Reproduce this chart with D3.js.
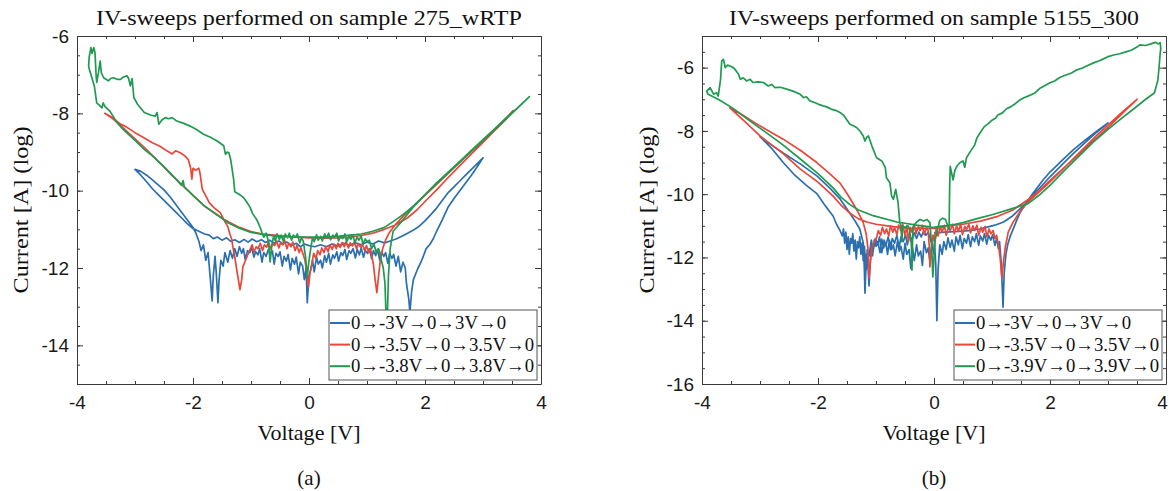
<!DOCTYPE html>
<html>
<head>
<meta charset="utf-8">
<title>IV sweeps</title>
<script src="https://d3js.org/d3.v7.min.js"></script>
<style>
  body { margin: 0; background: #fff; }
  .serif { font-family: "Liberation Serif", "DejaVu Serif", serif; fill: #111; }
</style>
</head>
<body>
<svg id="chart" width="1169" height="491"></svg>
<script>
// ---- data ----
const voltTicks = [-4, -2, 0, 2, 4];
const logTicksA = [-6, -8, -10, -12, -14];
const logTicksB = [-6, -8, -10, -12, -14, -16];
const titles = ["IV-sweeps performed on sample 275_wRTP", "IV-sweeps performed on sample 5155_300"];
const captions = ["(a)", "(b)"];
const legendA = ["0\u2192-3V\u21920\u21923V\u21920", "0\u2192-3.5V\u21920\u21923.5V\u21920", "0\u2192-3.8V\u21920\u21923.8V\u21920"];
const legendB = ["0\u2192-3V\u21920\u21923V\u21920", "0\u2192-3.5V\u21920\u21923.5V\u21920", "0\u2192-3.9V\u21920\u21923.9V\u21920"];
const colors = ["#2b6fae", "#e8473b", "#1f9a50"];

// [voltage, log10 current] along each sweep loop
const blueA = [
  [0,-11.42],[-0.08,-11.38],[-0.15,-11.45],[-0.22,-11.36],[-0.3,-11.41],[-0.38,-11.33],[-0.45,-11.38],[-0.52,-11.3],[-0.6,-11.36],[-0.68,-11.28],
  [-0.75,-11.34],[-0.82,-11.27],[-0.9,-11.32],[-0.98,-11.25],[-1.05,-11.33],[-1.12,-11.26],[-1.2,-11.34],[-1.28,-11.27],[-1.35,-11.31],[-1.42,-11.22],
  [-1.5,-11.28],[-1.58,-11.2],[-1.65,-11.24],[-1.72,-11.15],[-1.8,-11.12],[-1.9,-11.05],[-2.0,-10.98],[-2.1,-10.85],[-2.2,-10.7],[-2.3,-10.55],
  [-2.4,-10.4],[-2.5,-10.25],[-2.6,-10.1],[-2.7,-9.95],[-2.8,-9.77],[-2.9,-9.6],[-3.0,-9.45],
  [-2.9,-9.5],[-2.8,-9.6],[-2.7,-9.72],[-2.6,-9.85],[-2.5,-9.98],[-2.4,-10.15],[-2.3,-10.35],[-2.2,-10.55],[-2.1,-10.75],[-2.0,-10.95],
  [-1.95,-11.1],[-1.9,-11.3],[-1.86,-11.55],[-1.82,-11.4],[-1.78,-11.8],[-1.74,-11.6],[-1.7,-12.3],[-1.67,-12.85],[-1.65,-12.2],[-1.62,-11.7],
  [-1.6,-12.1],[-1.57,-12.9],[-1.55,-12.3],[-1.52,-11.8],[-1.48,-11.95],[-1.45,-11.6],[-1.4,-11.85],[-1.36,-11.55],[-1.32,-11.75],[-1.28,-11.5],
  [-1.24,-11.7],[-1.2,-11.45],[-1.16,-11.62],[-1.13,-11.5],[-1.1,-11.78],[-1.06,-11.55],[-1.02,-11.6],[-0.99,-11.46],[-0.95,-11.72],[-0.92,-11.58],
  [-0.88,-11.66],[-0.85,-11.5],[-0.81,-11.85],[-0.78,-11.6],[-0.74,-11.7],[-0.7,-11.52],[-0.67,-11.64],[-0.63,-11.56],[-0.6,-11.9],[-0.57,-11.62],
  [-0.53,-11.7],[-0.5,-11.58],[-0.46,-11.95],[-0.43,-11.7],[-0.39,-11.82],[-0.36,-11.65],[-0.32,-12.05],[-0.29,-11.75],[-0.25,-11.9],[-0.22,-11.72],
  [-0.18,-12.15],[-0.15,-11.85],[-0.11,-11.95],[-0.08,-12.3],[-0.05,-12.0],[-0.03,-12.9],[0,-12.2],
  [0.03,-12.05],[0.06,-11.8],[0.09,-12.1],[0.13,-11.72],[0.16,-11.9],[0.2,-11.8],[0.23,-12.0],[0.27,-11.68],[0.3,-11.85],[0.34,-11.62],
  [0.37,-11.9],[0.41,-11.66],[0.44,-11.75],[0.48,-11.58],[0.51,-11.82],[0.55,-11.6],[0.58,-11.68],[0.62,-11.52],[0.65,-11.78],[0.69,-11.55],
  [0.72,-11.62],[0.76,-11.5],[0.8,-11.74],[0.83,-11.52],[0.87,-11.66],[0.9,-11.48],[0.94,-11.72],[0.97,-11.55],[1.01,-11.62],[1.04,-11.5],
  [1.08,-11.76],[1.11,-11.55],[1.15,-11.68],[1.18,-11.52],[1.22,-11.8],[1.25,-11.58],[1.29,-11.7],[1.32,-11.6],[1.36,-11.88],[1.39,-11.62],
  [1.43,-11.75],[1.46,-11.65],[1.5,-11.95],[1.54,-11.7],[1.58,-12.1],[1.62,-11.85],[1.66,-12.0],[1.68,-12.4],[1.72,-12.8],[1.74,-13.15],
  [1.77,-12.6],[1.8,-12.3],[1.84,-12.15],[1.88,-12.0],[1.93,-11.85],[1.97,-11.7],[2.02,-11.5],[2.08,-11.4],[2.14,-11.25],[2.2,-11.05],
  [2.3,-10.75],[2.4,-10.42],[2.5,-10.2],[2.6,-10.0],[2.7,-9.8],[2.8,-9.6],[2.9,-9.38],[3.0,-9.15],
  [2.9,-9.3],[2.8,-9.45],[2.7,-9.6],[2.6,-9.75],[2.5,-9.9],[2.4,-10.05],[2.3,-10.25],[2.2,-10.45],[2.1,-10.62],[2.0,-10.78],
  [1.9,-10.92],[1.8,-11.02],[1.7,-11.1],[1.6,-11.18],[1.5,-11.25],[1.4,-11.3],[1.3,-11.35],[1.2,-11.3],[1.1,-11.38],[1.0,-11.33],
  [0.9,-11.4],[0.8,-11.35],[0.7,-11.42],[0.6,-11.36],[0.5,-11.43],[0.4,-11.38],[0.3,-11.45],[0.2,-11.4],[0.1,-11.45],[0,-11.42]
];
const redA = [
  [0,-11.22],[-0.2,-11.2],[-0.4,-11.18],[-0.6,-11.15],[-0.8,-11.12],[-1.0,-11.06],[-1.2,-10.95],[-1.4,-10.8],[-1.6,-10.62],[-1.8,-10.4],
  [-2.0,-10.12],[-2.2,-9.84],[-2.4,-9.55],[-2.6,-9.24],[-2.8,-8.94],[-3.0,-8.66],[-3.2,-8.38],[-3.4,-8.12],[-3.52,-8.0],
  [-3.4,-8.1],[-3.26,-8.27],[-3.15,-8.35],[-3.0,-8.5],[-2.84,-8.64],[-2.7,-8.76],[-2.57,-8.85],[-2.45,-8.97],[-2.36,-9.05],[-2.3,-8.97],
  [-2.22,-9.02],[-2.14,-9.1],[-2.08,-9.2],[-2.04,-9.42],[-2.02,-9.7],[-2.0,-9.42],[-1.96,-9.47],[-1.9,-9.42],[-1.88,-9.54],[-1.84,-9.96],
  [-1.72,-10.31],[-1.64,-10.44],[-1.53,-10.57],[-1.45,-10.8],[-1.4,-10.93],[-1.36,-11.14],[-1.33,-11.27],[-1.31,-11.48],[-1.28,-11.71],[-1.24,-12.1],
  [-1.19,-12.56],[-1.16,-12.3],[-1.14,-11.97],[-1.07,-11.71],[-1.02,-11.53],[-0.98,-11.4],[-0.95,-11.6],[-0.91,-11.45],[-0.88,-11.5],[-0.84,-11.36],
  [-0.8,-11.55],[-0.77,-11.4],[-0.73,-11.46],[-0.7,-11.32],[-0.66,-11.5],[-0.63,-11.38],[-0.59,-11.42],[-0.56,-11.3],[-0.52,-11.48],[-0.49,-11.35],
  [-0.45,-11.4],[-0.42,-11.28],[-0.38,-11.5],[-0.35,-11.36],[-0.31,-11.45],[-0.28,-11.33],[-0.24,-11.55],[-0.21,-11.42],[-0.17,-11.6],[-0.14,-11.48],
  [-0.1,-11.65],[-0.07,-11.8],[-0.04,-12.1],[-0.01,-12.49],[0.02,-12.1],
  [0.05,-11.9],[0.08,-11.62],[0.12,-11.75],[0.15,-11.55],[0.19,-11.66],[0.22,-11.48],[0.26,-11.6],[0.29,-11.44],[0.33,-11.58],[0.36,-11.4],
  [0.4,-11.52],[0.43,-11.38],[0.47,-11.5],[0.5,-11.36],[0.54,-11.47],[0.57,-11.34],[0.61,-11.45],[0.64,-11.32],[0.68,-11.48],[0.71,-11.35],
  [0.75,-11.43],[0.78,-11.33],[0.82,-11.5],[0.85,-11.37],[0.89,-11.46],[0.92,-11.38],[0.96,-11.55],[0.99,-11.42],[1.03,-11.6],[1.06,-11.5],
  [1.09,-11.75],[1.11,-11.9],[1.14,-12.3],[1.17,-12.64],[1.2,-12.2],[1.23,-11.8],[1.27,-11.5],[1.32,-11.28],[1.38,-11.1],
  [1.45,-10.95],[1.55,-10.78],[1.65,-10.62],[1.8,-10.4],[2.0,-10.12],[2.2,-9.84],[2.4,-9.55],[2.6,-9.26],[2.8,-8.98],[3.0,-8.7],
  [3.2,-8.42],[3.4,-8.12],[3.52,-7.93],
  [3.4,-8.15],[3.2,-8.45],[3.0,-8.75],[2.8,-9.05],[2.6,-9.35],[2.4,-9.66],[2.2,-9.98],[2.0,-10.28],[1.86,-10.5],[1.7,-10.7],
  [1.5,-10.88],[1.3,-11.0],[1.1,-11.1],[0.9,-11.16],[0.7,-11.2],[0.5,-11.22],[0.3,-11.23],[0,-11.22]
];
const greenA = [
  [0,-11.2],[-0.2,-11.2],[-0.4,-11.19],[-0.6,-11.17],[-0.8,-11.13],[-1.0,-11.08],[-1.2,-10.97],[-1.4,-10.83],[-1.53,-10.68],[-1.6,-10.6],
  [-1.81,-10.39],[-2.0,-10.12],[-2.1,-9.97],[-2.15,-9.9],[-2.17,-9.74],[-2.2,-9.86],[-2.28,-9.72],[-2.5,-9.38],[-2.7,-9.1],[-2.84,-8.93],
  [-3.0,-8.7],[-3.2,-8.42],[-3.31,-8.24],[-3.43,-7.95],[-3.52,-7.82],[-3.55,-7.73],[-3.57,-7.86],[-3.62,-7.78],[-3.66,-7.73],[-3.7,-7.3],
  [-3.74,-7.1],[-3.78,-6.9],[-3.8,-6.78],
  [-3.79,-6.55],[-3.76,-6.3],[-3.74,-6.45],[-3.71,-6.3],[-3.69,-6.43],[-3.67,-7.03],[-3.66,-7.2],[-3.63,-6.95],[-3.6,-6.65],[-3.58,-6.95],
  [-3.54,-7.08],[-3.5,-7.12],[-3.46,-7.16],[-3.42,-7.1],[-3.37,-7.08],[-3.31,-7.12],[-3.25,-7.12],[-3.2,-7.06],[-3.14,-7.03],[-3.11,-7.1],
  [-3.08,-7.29],[-3.05,-7.1],[-3.02,-7.59],[-2.95,-7.78],[-2.84,-7.98],[-2.72,-8.05],[-2.65,-8.07],[-2.62,-7.98],[-2.59,-8.28],[-2.54,-8.18],
  [-2.48,-8.11],[-2.42,-8.14],[-2.36,-8.11],[-2.28,-8.2],[-2.16,-8.26],[-2.05,-8.33],[-1.94,-8.42],[-1.82,-8.54],[-1.7,-8.62],[-1.59,-8.71],
  [-1.47,-8.84],[-1.44,-9.06],[-1.41,-9.0],[-1.38,-9.02],[-1.35,-9.2],[-1.33,-9.4],[-1.3,-9.7],[-1.28,-10.03],[-1.22,-10.08],[-1.14,-10.16],
  [-1.08,-10.28],[-1.02,-10.42],[-0.97,-10.6],[-0.9,-10.75],[-0.84,-10.96],[-0.81,-11.09],[-0.78,-11.2],[-0.74,-11.1],[-0.7,-11.3],[-0.67,-11.84],
  [-0.64,-11.4],[-0.61,-11.18],[-0.58,-11.3],[-0.55,-11.12],[-0.51,-11.26],[-0.48,-11.15],[-0.44,-11.32],[-0.41,-11.12],[-0.37,-11.22],[-0.34,-11.1],
  [-0.3,-11.28],[-0.27,-11.15],[-0.23,-11.2],[-0.2,-11.12],[-0.16,-11.35],[-0.13,-11.22],[-0.1,-11.3],[-0.06,-11.7],[-0.03,-12.23],[0,-11.8],
  [0.03,-11.5],[0.06,-11.22],[0.09,-11.32],[0.13,-11.14],[0.16,-11.28],[0.2,-11.18],[0.23,-11.3],[0.27,-11.12],[0.3,-11.22],[0.34,-11.1],
  [0.37,-11.27],[0.41,-11.15],[0.44,-11.2],[0.48,-11.1],[0.51,-11.3],[0.55,-11.16],[0.58,-11.24],[0.62,-11.12],[0.65,-11.32],[0.69,-11.18],
  [0.72,-11.26],[0.76,-11.15],[0.79,-11.35],[0.83,-11.2],[0.86,-11.28],[0.9,-11.18],[0.93,-11.38],[0.97,-11.25],[1.0,-11.32],[1.04,-11.28],
  [1.08,-11.5],[1.12,-11.38],[1.16,-11.6],[1.2,-11.5],[1.24,-11.75],[1.28,-12.0],[1.31,-12.4],[1.33,-13.3],[1.35,-13.3],
  [1.37,-12.2],[1.4,-11.5],[1.45,-11.05],[1.55,-10.88],[1.62,-10.75],[1.8,-10.42],[2.03,-10.06],[2.2,-9.82],[2.4,-9.54],[2.6,-9.26],
  [2.8,-8.98],[3.0,-8.7],[3.2,-8.42],[3.4,-8.14],[3.6,-7.86],[3.8,-7.57],
  [3.6,-7.85],[3.4,-8.12],[3.2,-8.4],[3.0,-8.68],[2.8,-8.96],[2.6,-9.24],[2.4,-9.52],[2.2,-9.8],[2.0,-10.1],[1.8,-10.4],
  [1.62,-10.62],[1.45,-10.8],[1.3,-10.95],[1.1,-11.05],[0.9,-11.12],[0.7,-11.15],[0.5,-11.18],[0.3,-11.2],[0.1,-11.2],[0,-11.2]
];
const blueB = [
  [0,-11.9],[-0.03,-11.55],[-0.07,-12.15],[-0.1,-11.7],[-0.13,-11.85],[-0.17,-11.5],[-0.2,-12.25],[-0.23,-11.8],[-0.27,-11.95],[-0.3,-11.6],
  [-0.34,-12.1],[-0.37,-11.7],[-0.4,-12.35],[-0.43,-11.75],[-0.47,-11.9],[-0.5,-11.55],[-0.53,-12.05],[-0.57,-11.65],[-0.6,-11.8],[-0.63,-11.5],
  [-0.67,-11.95],[-0.7,-11.6],[-0.73,-11.75],[-0.77,-11.45],[-0.8,-11.9],[-0.83,-11.55],[-0.87,-11.7],[-0.9,-11.42],[-0.93,-11.85],[-0.97,-11.5],
  [-1.0,-11.65],[-1.03,-11.45],[-1.06,-11.95],[-1.08,-11.6],[-1.1,-12.2],[-1.12,-12.9],
  [-1.14,-12.2],[-1.16,-11.9],[-1.18,-12.6],[-1.19,-13.13],[-1.2,-12.4],[-1.22,-11.54],[-1.28,-11.1],[-1.35,-10.88],[-1.45,-10.6],[-1.62,-10.15],
  [-1.8,-9.8],[-2.02,-9.42],[-2.3,-9.05],[-2.6,-8.7],[-2.8,-8.45],[-3.0,-8.18],
  [-2.8,-8.55],[-2.6,-9.0],[-2.4,-9.4],[-2.2,-9.72],[-2.02,-9.98],[-1.9,-10.3],[-1.8,-10.55],[-1.74,-10.69],[-1.68,-10.95],[-1.62,-11.15],
  [-1.58,-11.32],[-1.56,-11.1],[-1.54,-11.55],[-1.52,-11.2],[-1.5,-11.75],[-1.48,-11.35],[-1.46,-11.9],[-1.44,-11.4],[-1.42,-11.55],[-1.4,-11.25],
  [-1.38,-11.8],[-1.36,-11.45],[-1.34,-12.05],[-1.32,-11.5],[-1.3,-11.7],[-1.28,-11.35],[-1.26,-11.9],[-1.24,-11.55],[-1.22,-12.1],[-1.2,-11.65],
  [-1.17,-12.4],[-1.15,-11.75],[-1.12,-11.95],[-1.08,-11.45],[-1.05,-11.8],[-1.01,-11.4],[-0.97,-11.6],[-0.94,-11.35],[-0.9,-11.85],[-0.86,-11.45],
  [-0.83,-11.62],[-0.79,-11.35],[-0.75,-11.75],[-0.72,-11.4],[-0.68,-11.55],[-0.64,-11.3],[-0.6,-11.68],[-0.57,-11.35],[-0.53,-11.5],[-0.49,-11.28],
  [-0.46,-11.6],[-0.42,-11.3],[-0.38,-11.45],[-0.34,-11.22],[-0.3,-11.4],[-0.26,-11.2],[-0.22,-11.35],[-0.18,-11.18],[-0.14,-11.3],[-0.1,-11.2],
  [-0.05,-11.5],[0,-11.3],[0.03,-12.2],[0.05,-14.0],[0.07,-12.4],[0.1,-11.6],
  [0.14,-11.9],[0.17,-11.5],[0.21,-11.75],[0.24,-11.38],[0.28,-11.68],[0.31,-11.45],[0.35,-11.8],[0.38,-11.35],[0.42,-11.6],[0.45,-11.3],
  [0.49,-11.72],[0.52,-11.4],[0.56,-11.55],[0.59,-11.28],[0.63,-11.66],[0.66,-11.35],[0.7,-11.5],[0.73,-11.25],[0.77,-11.62],[0.8,-11.32],
  [0.84,-11.48],[0.87,-11.25],[0.91,-11.58],[0.94,-11.3],[0.98,-11.45],[1.01,-11.28],[1.05,-11.62],[1.08,-11.4],[1.11,-11.72],[1.13,-11.5],
  [1.16,-12.2],[1.19,-13.57],[1.21,-12.5],[1.24,-11.9],
  [1.27,-11.6],[1.31,-11.35],[1.36,-11.13],[1.42,-10.85],[1.48,-10.6],[1.6,-10.25],[1.71,-9.96],[1.88,-9.55],[2.0,-9.3],[2.2,-8.95],
  [2.4,-8.6],[2.6,-8.3],[2.8,-8.02],[3.0,-7.75],
  [2.8,-8.05],[2.6,-8.38],[2.4,-8.72],[2.2,-9.08],[2.0,-9.45],[1.85,-9.75],[1.7,-10.05],[1.55,-10.35],[1.45,-10.52],[1.36,-10.68],
  [1.2,-10.88],[1.05,-10.98],[0.9,-11.05],[0.79,-11.1],[0.6,-11.15],[0.4,-11.18],[0.2,-11.2],[0,-11.22]
];
const redB = [
  [0,-11.08],[-0.2,-11.08],[-0.4,-11.07],[-0.59,-11.05],[-0.8,-11.0],[-1.0,-10.95],[-1.16,-10.88],[-1.3,-10.78],[-1.45,-10.6],[-1.6,-10.35],
  [-1.74,-10.06],[-2.0,-9.62],[-2.31,-9.2],[-2.6,-8.72],[-3.0,-8.16],[-3.25,-7.72],[-3.52,-7.27],
  [-3.3,-7.5],[-3.1,-7.73],[-2.9,-7.95],[-2.6,-8.26],[-2.3,-8.62],[-2.02,-9.0],[-1.8,-9.35],[-1.62,-9.65],[-1.5,-9.98],
  [-1.4,-10.28],[-1.3,-10.6],[-1.22,-10.9],[-1.17,-11.25],[-1.14,-11.7],[-1.12,-12.65],[-1.1,-12.2],[-1.07,-11.67],[-1.03,-11.5],
  [-0.99,-11.38],[-0.96,-11.15],[-0.92,-11.3],[-0.89,-11.05],[-0.85,-11.25],[-0.82,-11.1],[-0.78,-11.32],[-0.75,-11.0],[-0.71,-11.2],[-0.68,-11.05],
  [-0.64,-11.28],[-0.61,-10.98],[-0.57,-11.15],[-0.54,-10.95],[-0.5,-11.3],[-0.47,-11.0],[-0.44,-11.5],[-0.41,-11.05],[-0.38,-11.2],[-0.34,-10.95],
  [-0.31,-11.25],[-0.27,-11.02],[-0.24,-11.15],[-0.2,-10.98],[-0.17,-11.28],[-0.13,-11.05],[-0.1,-11.15],[-0.08,-11.7],[-0.07,-12.3],[-0.05,-11.8],
  [-0.02,-11.3],[0,-11.45],
  [0.04,-11.1],[0.07,-11.32],[0.11,-11.02],[0.14,-11.2],[0.18,-10.98],[0.21,-11.3],[0.25,-11.05],[0.28,-11.15],[0.32,-10.95],[0.35,-11.25],
  [0.39,-11.0],[0.42,-11.18],[0.46,-10.95],[0.49,-11.28],[0.53,-11.02],[0.56,-11.12],[0.6,-10.95],[0.63,-11.22],[0.67,-11.0],[0.7,-11.15],
  [0.74,-10.98],[0.77,-11.3],[0.81,-11.05],[0.84,-11.2],[0.88,-11.02],[0.91,-11.35],[0.95,-11.1],[0.98,-11.25],[1.02,-11.15],[1.05,-11.4],
  [1.08,-11.3],[1.11,-11.6],[1.14,-12.0],[1.17,-12.65],
  [1.2,-12.1],[1.23,-11.67],[1.28,-11.2],[1.36,-10.9],[1.5,-10.5],[1.66,-10.18],[1.8,-9.95],[1.95,-9.7],[2.2,-9.25],[2.5,-8.7],
  [2.8,-8.15],[3.0,-7.82],[3.25,-7.4],[3.5,-7.0],
  [3.3,-7.35],[3.0,-7.9],[2.7,-8.4],[2.4,-8.9],[2.1,-9.4],[1.95,-9.65],[1.8,-9.92],[1.6,-10.2],[1.36,-10.5],[1.1,-10.7],
  [0.8,-10.85],[0.5,-10.95],[0.33,-10.98],[0.1,-11.05],[0,-11.08]
];
const greenB = [
  [0,-11.05],[-0.3,-10.98],[-0.64,-10.88],[-1.05,-10.68],[-1.3,-10.5],[-1.45,-10.33],[-1.6,-10.1],[-1.74,-9.8],[-2.0,-9.35],[-2.31,-8.88],
  [-2.6,-8.45],[-2.88,-8.07],[-3.2,-7.65],[-3.47,-7.28],[-3.7,-7.02],[-3.9,-6.83],
  [-3.92,-6.74],[-3.86,-6.63],[-3.8,-6.84],[-3.75,-6.79],[-3.72,-6.9],[-3.68,-6.37],[-3.66,-5.79],[-3.63,-5.74],[-3.6,-6.0],[-3.56,-5.92],
  [-3.52,-5.95],[-3.46,-6.0],[-3.42,-6.08],[-3.37,-6.21],[-3.34,-6.37],[-3.29,-6.32],[-3.23,-6.42],[-3.17,-6.37],[-3.12,-6.47],[-3.03,-6.45],
  [-2.94,-6.47],[-2.86,-6.58],[-2.8,-6.53],[-2.74,-6.63],[-2.65,-6.62],[-2.54,-6.68],[-2.42,-6.75],[-2.31,-6.84],[-2.25,-6.95],[-2.2,-6.92],
  [-2.14,-7.05],[-2.06,-7.1],[-1.99,-7.16],[-1.91,-7.21],[-1.85,-7.24],[-1.76,-7.32],[-1.68,-7.36],[-1.62,-7.42],[-1.56,-7.5],[-1.51,-7.63],
  [-1.45,-7.79],[-1.39,-7.84],[-1.33,-7.9],[-1.27,-8.02],[-1.22,-8.16],[-1.19,-8.32],[-1.16,-8.2],[-1.13,-8.16],[-1.07,-8.48],[-0.99,-8.85],
  [-0.9,-8.95],[-0.84,-9.16],[-0.82,-9.48],[-0.76,-9.64],[-0.73,-10.06],[-0.7,-10.16],[-0.66,-9.85],[-0.62,-10.27],[-0.59,-10.9],[-0.57,-11.0],
  [-0.555,-11.5],[-0.54,-11.0],[-0.5,-11.05],[-0.45,-11.0],[-0.42,-11.15],[-0.39,-11.6],[-0.38,-12.4],[-0.37,-11.5],[-0.36,-11.04],[-0.3,-10.88],
  [-0.24,-10.8],[-0.18,-10.85],[-0.12,-10.8],[-0.07,-10.9],[-0.04,-11.67],[-0.02,-12.62],[0,-12.0],[0.02,-11.45],[0.07,-11.04],[0.1,-10.82],
  [0.15,-10.76],[0.2,-10.8],[0.24,-11.04],[0.26,-11.1],
  [0.27,-9.8],[0.28,-9.12],[0.3,-9.3],[0.33,-9.55],[0.36,-9.25],[0.4,-9.1],[0.45,-9.0],[0.5,-8.95],[0.53,-9.15],[0.56,-8.85],
  [0.62,-8.67],[0.7,-8.45],[0.74,-8.22],[0.8,-8.05],[0.86,-7.88],[0.93,-7.78],[1.0,-7.66],[1.06,-7.6],[1.1,-7.5],[1.18,-7.43],
  [1.25,-7.3],[1.32,-7.24],[1.4,-7.14],[1.48,-7.02],[1.55,-6.95],[1.62,-6.9],[1.74,-6.8],[1.82,-6.66],[1.9,-6.58],[2.0,-6.48],
  [2.08,-6.42],[2.16,-6.32],[2.25,-6.25],[2.37,-6.17],[2.45,-6.08],[2.55,-6.02],[2.65,-5.93],[2.75,-5.85],[2.85,-5.78],[2.95,-5.7],
  [3.0,-5.65],[3.1,-5.6],[3.2,-5.56],[3.31,-5.5],[3.4,-5.45],[3.5,-5.35],[3.55,-5.28],[3.65,-5.3],[3.75,-5.24],[3.82,-5.2],
  [3.86,-5.25],[3.9,-5.21],
  [3.91,-5.4],[3.9,-5.54],[3.88,-6.0],[3.86,-6.39],[3.83,-6.6],[3.8,-6.8],[3.65,-7.0],[3.5,-7.22],[3.25,-7.58],[3.0,-7.95],
  [2.75,-8.35],[2.5,-8.8],[2.25,-9.25],[2.0,-9.72],[1.8,-10.05],[1.62,-10.3],[1.36,-10.45],[1.0,-10.65],[0.79,-10.75],[0.5,-10.9],
  [0.33,-10.97],[0.1,-11.02],[0,-11.05]
];

// ---- layout ----
const panels = [
  { id: 'a', left: 77, right: 541, top: 36, bottom: 384, yDomain: [-15, -6], yTicks: logTicksA,
    series: [blueA, redA, greenA], legend: legendA, legendX: 329, title: titles[0], titleW: 426,
    caption: captions[0], ylabelX: 28 },
  { id: 'b', left: 702, right: 1166, top: 36, bottom: 384, yDomain: [-16, -5], yTicks: logTicksB,
    series: [blueB, redB, greenB], legend: legendB, legendX: 954, title: titles[1], titleW: 410,
    caption: captions[1], ylabelX: 654 }
];
const legendW = [155, 183, 183];

const svg = d3.select('#chart');
const tickFont = '"Liberation Sans", Arial, sans-serif';
const axisColor = '#3a3a3a';

function styleAxis(sel) {
  sel.attr('font-size', 19).attr('font-family', tickFont);
  sel.selectAll('.domain').attr('stroke', axisColor);
  sel.selectAll('.tick line').attr('stroke', axisColor);
  sel.selectAll('.tick text').attr('fill', '#1a1a1a');
}

function drawPanel(p) {
  const x = d3.scaleLinear().domain([-4, 4]).range([p.left, p.right]);
  const y = d3.scaleLinear().domain(p.yDomain).range([p.bottom, p.top]);
  const g = svg.append('g');
  const cx = (p.left + p.right) / 2;

  // clip for traces
  svg.append('clipPath').attr('id', 'clip-' + p.id)
    .append('rect')
    .attr('x', p.left).attr('y', p.top)
    .attr('width', p.right - p.left).attr('height', p.bottom - p.top);

  const line = d3.line().x(d => x(d[0])).y(d => y(d[1]));
  const traces = g.append('g').attr('clip-path', `url(#clip-${p.id})`);
  p.series.forEach((s, i) => {
    traces.append('path')
      .datum(s)
      .attr('d', line)
      .attr('fill', 'none')
      .attr('stroke', colors[i])
      .attr('stroke-width', 1.7)
      .attr('stroke-linejoin', 'round');
  });

  // axes, ticks pointing inward
  const minorX = d3.range(-4, 4.001, 0.5);
  const minorY = d3.range(p.yDomain[0], p.yDomain[1] + 0.001, 0.5);
  const fmt = d => String(d);

  const bottomAxis = g.append('g').attr('transform', `translate(0,${p.bottom})`)
    .call(d3.axisBottom(x).tickValues(voltTicks).tickSize(-6).tickSizeOuter(0).tickPadding(12).tickFormat(fmt))
    .call(styleAxis);
  // keep the last label inside the window
  bottomAxis.selectAll('.tick text').filter(d => x(d) + 6 > 1169).attr('dx', -4);

  g.append('g').attr('transform', `translate(0,${p.bottom})`)
    .call(d3.axisBottom(x).tickValues(minorX).tickSize(-3).tickFormat(''))
    .call(a => a.select('.domain').remove()).call(styleAxis);
  g.append('g').attr('transform', `translate(0,${p.top})`)
    .call(d3.axisTop(x).tickValues(voltTicks).tickSize(-6).tickSizeOuter(0).tickFormat(''))
    .call(styleAxis);
  g.append('g').attr('transform', `translate(0,${p.top})`)
    .call(d3.axisTop(x).tickValues(minorX).tickSize(-3).tickFormat(''))
    .call(a => a.select('.domain').remove()).call(styleAxis);

  g.append('g').attr('transform', `translate(${p.left},0)`)
    .call(d3.axisLeft(y).tickValues(p.yTicks).tickSize(-6).tickSizeOuter(0).tickPadding(8).tickFormat(fmt))
    .call(styleAxis);
  g.append('g').attr('transform', `translate(${p.left},0)`)
    .call(d3.axisLeft(y).tickValues(minorY).tickSize(-3).tickFormat(''))
    .call(a => a.select('.domain').remove()).call(styleAxis);
  g.append('g').attr('transform', `translate(${p.right},0)`)
    .call(d3.axisRight(y).tickValues(p.yTicks).tickSize(-6).tickSizeOuter(0).tickFormat(''))
    .call(styleAxis);
  g.append('g').attr('transform', `translate(${p.right},0)`)
    .call(d3.axisRight(y).tickValues(minorY).tickSize(-3).tickFormat(''))
    .call(a => a.select('.domain').remove()).call(styleAxis);

  // texts
  g.append('text').attr('class', 'serif')
    .attr('x', cx).attr('y', 25).attr('text-anchor', 'middle')
    .attr('font-size', 22)
    .attr('textLength', p.titleW).attr('lengthAdjust', 'spacingAndGlyphs')
    .text(p.title);
  g.append('text').attr('class', 'serif')
    .attr('x', cx).attr('y', 440).attr('text-anchor', 'middle')
    .attr('font-size', 21)
    .attr('textLength', 103).attr('lengthAdjust', 'spacingAndGlyphs')
    .text('Voltage [V]');
  g.append('text').attr('class', 'serif')
    .attr('transform', `translate(${p.ylabelX},${(p.top + p.bottom) / 2}) rotate(-90)`)
    .attr('text-anchor', 'middle')
    .attr('font-size', 22)
    .attr('textLength', 167).attr('lengthAdjust', 'spacingAndGlyphs')
    .text('Current [A] (log)');
  g.append('text').attr('class', 'serif')
    .attr('x', cx).attr('y', 485).attr('text-anchor', 'middle')
    .attr('font-size', 21).text(p.caption);

  // legend
  const lg = g.append('g').attr('transform', `translate(${p.legendX},310)`);
  lg.append('rect')
    .attr('width', 208).attr('height', 70)
    .attr('fill', '#fff').attr('stroke', '#555').attr('stroke-width', 1);
  p.legend.forEach((label, i) => {
    const ly = 13 + i * 21.6;
    lg.append('line')
      .attr('x1', 1).attr('x2', 21).attr('y1', ly).attr('y2', ly)
      .attr('stroke', colors[i]).attr('stroke-width', 2);
    lg.append('text').attr('class', 'serif')
      .attr('x', 22).attr('y', ly + 6)
      .attr('font-size', 19)
      .attr('textLength', legendW[i]).attr('lengthAdjust', 'spacingAndGlyphs')
      .text(label);
  });
}

panels.forEach(drawPanel);
</script>
</body>
</html>
